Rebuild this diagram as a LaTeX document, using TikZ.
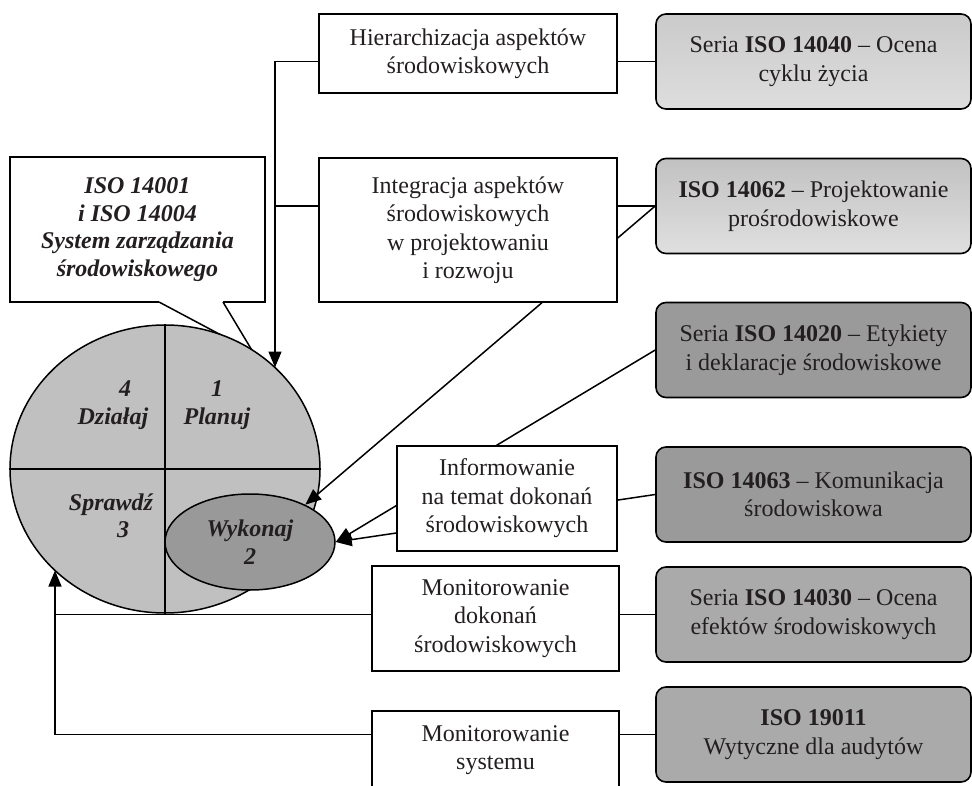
\documentclass[tikz,border=0pt]{standalone}
\usepackage{fontspec}
\setmainfont{Liberation Serif}
\usetikzlibrary{arrows.meta,shapes.geometric}
\definecolor{pdcagray}{HTML}{C0C0C0}
\definecolor{wykgray}{HTML}{999999}
\definecolor{lightA}{HTML}{DCDCDC}
\definecolor{darkB}{HTML}{9A9A9A}
\definecolor{midC}{HTML}{AAAAAA}
\definecolor{txtc}{HTML}{231F20}
\begin{document}
\begin{tikzpicture}[x=1bp,y=-1bp,
  font=\fontsize{24bp}{28.5bp}\selectfont,
  wbox/.style={draw, line width=1.6bp, fill=white, align=center, inner sep=0pt, text=txtc},
  rbox/.style={draw, line width=1.6bp, rounded corners=10bp, align=center, inner sep=0pt,
               minimum width=315bp, minimum height=95bp, text=txtc},
  conn/.style={line width=1.5bp},
  arr/.style={conn, -{Triangle[length=16bp,width=13bp]}},
  pdcatext/.style={font=\fontsize{24bp}{27.5bp}\selectfont\bfseries\itshape, align=center, text=txtc},
]
\clip (0,0) rectangle (972,786);
\useasboundingbox (0,0) rectangle (972,786);

% right-hand standards boxes
\node[rbox, top color=lightA!92!black, bottom color=lightA!95!white] (r1) at (813.5,61.5)
  {Seria \textbf{ISO 14040} – Ocena\\cyklu życia};
\node[rbox, top color=lightA!88!black, bottom color=lightA!90!white] (r2) at (813.5,206)
  {\textbf{ISO 14062} – Projektowanie\\prośrodowiskowe};
\node[rbox, fill=darkB] (r3) at (813.5,350)
  {Seria \textbf{ISO 14020} – Etykiety\\i deklaracje środowiskowe};
\node[rbox, fill=darkB] (r4) at (813.5,494.5)
  {\textbf{ISO 14063} – Komunikacja\\środowiskowa};
\node[rbox, fill=midC] (r5) at (813.5,614.5)
  {Seria \textbf{ISO 14030} – Ocena\\efektów środowiskowych};
\node[rbox, fill=midC] (r6) at (813.5,734.5)
  {\textbf{ISO 19011}\\Wytyczne dla audytów};

% callout
\node[draw, line width=1.6bp, fill=white, minimum width=255bp, minimum height=145bp,
      inner sep=0pt, pdcatext] (callout) at (137.5,229.5)
  {ISO 14001\\i ISO 14004\\System zarządzania\\środowiskowego};
\coordinate (cpa) at (159,302);
\coordinate (cpb) at (223,302);
\coordinate (cptip) at (253,352);
\fill[white] (159,299) -- (cpa) -- (cptip) -- (cpb) -- (223,299) -- cycle;
\draw[conn] (cpa) -- (cptip) -- (cpb);

% PDCA circle
\node[ellipse, draw, line width=1.5bp, fill=pdcagray, minimum width=310bp,
      minimum height=288bp, inner sep=0pt] (pdca) at (165,469) {};
\draw[conn] (pdca.north) -- (pdca.south) (pdca.west) -- (pdca.east);
\node[ellipse, draw, line width=1.5bp, fill=wykgray, minimum width=170bp,
      minimum height=96bp, inner sep=0pt, pdcatext] (wyk) at (250,542) {Wykonaj\\2};
\node[pdcatext] (q4) at (113,405) {\hspace*{24bp}4\\Działaj};
\node[pdcatext] (q1) at (217,405) {1\\Planuj};
\node[pdcatext] (q3) at (111,516) {Sprawdź\\\hspace*{24bp}3};

% diagonal connectors (behind the white boxes)
\draw[arr] (r2.west) -- (wyk.34);
\draw[arr] (r3.west) -- (wyk.east);
\draw[arr] (r4.west) -- (wyk.east);

% white boxes
\node[wbox, minimum width=298bp, minimum height=79bp] (b1) at (468,53.5)
  {Hierarchizacja aspektów\\środowiskowych};
\node[wbox, minimum width=298bp, minimum height=144bp] (b2) at (468,230)
  {Integracja aspektów\\środowiskowych\\w projektowaniu\\i rozwoju};
\node[wbox, minimum width=220bp, minimum height=105bp] (b3) at (507,498.5)
  {Informowanie\\na temat dokonań\\środowiskowych};
\node[wbox, minimum width=247bp, minimum height=105bp] (b4) at (495.5,618.5)
  {Monitorowanie\\dokonań\\środowiskowych};
\node[wbox, minimum width=247bp, minimum height=78bp] (b5) at (495.5,750)
  {Monitorowanie\\systemu};

% orthogonal connectors
\coordinate (tipP) at (275,367.5);
\coordinate (tipL) at (55,570.5);
\draw[arr] (b1.west |- r1.west) -| (tipP);
\draw[conn] (b2.west |- r2.west) -- (tipP |- r2.west);
\draw[conn] (b1.east |- r1.west) -- (r1.west);
\draw[conn] (b2.east |- r2.west) -- (r2.west);
\draw[conn] (b4.west |- r5.west) -- (tipL |- r5.west);
\draw[conn] (b4.east |- r5.west) -- (r5.west);
\draw[arr] (b5.west |- r6.west) -| (tipL);
\draw[conn] (b5.east |- r6.west) -- (r6.west);
\end{tikzpicture}
\end{document}
